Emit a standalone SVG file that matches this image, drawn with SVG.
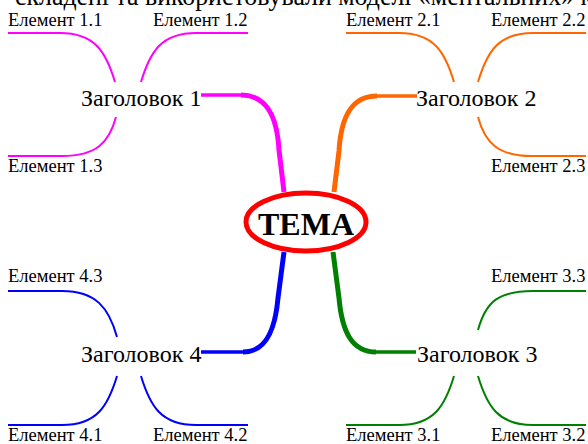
<svg xmlns="http://www.w3.org/2000/svg" width="588" height="444" viewBox="0 0 588 444">
<style>
.el{font-family:"Liberation Serif","Times New Roman",serif;font-size:18.5px;fill:#000}
.hd{font-family:"Liberation Serif","Times New Roman",serif;font-size:24px;fill:#000}
.tm{font-family:"Liberation Serif","Times New Roman",serif;font-size:32px;font-weight:bold;fill:#000}
.top{font-family:"Liberation Serif","Times New Roman",serif;font-size:28px;fill:#000}
.c{fill:none;stroke-linecap:butt;stroke-linejoin:round}
.thin{stroke-width:2}
.m{stroke:#FF00FF}.o{stroke:#FF6600}.g{stroke:#008000}.b{stroke:#0000FF}
</style>
<rect width="588" height="444" fill="#fff"/>
<text class="top" x="15" y="5" textLength="578" lengthAdjust="spacingAndGlyphs">складені та використовували моделі «ментальних» к</text>
<g id="connectors">
<path class="c m" stroke-width="3.5" d="M201,95 H243"/>
<path class="c m" stroke-width="5" d="M241,95 C266,95 277,115 279,150 L284,192"/>
<path class="c o" stroke-width="3.5" d="M417,96 H375"/>
<path class="c o" stroke-width="5" d="M377,96 C352,96 341,116 339,151 L334,192"/>
<path class="c b" stroke-width="5" d="M284,252 L278,298 C275,332 265,352 243,352"/>
<path class="c b" stroke-width="3.5" d="M245,352 H201"/>
<path class="c g" stroke-width="5" d="M333,252 L339,298 C342,332 352,352 376,352"/>
<path class="c g" stroke-width="3.5" d="M374,352 H416"/>
<path class="c thin m" d="M8,33 H60 C95,33 106,52 115,82"/>
<path class="c thin m" d="M248,33 H196 C161,33 150,52 141,82"/>
<path class="c thin m" d="M116,117 C109,143 96,156 62,156 H8"/>
<path class="c thin o" d="M346,33 H399 C434,33 445,52 454,82"/>
<path class="c thin o" d="M586,33 H533 C498,33 487,52 478,82"/>
<path class="c thin o" d="M478,117 C485,143 498,156 532,156 H586"/>
<path class="c thin g" d="M478,330 C486,301 499,291 533,291 H586"/>
<path class="c thin g" d="M454,376 C445,406 434,425 399,425 H346"/>
<path class="c thin g" d="M478,376 C487,406 498,425 533,425 H586"/>
<path class="c thin b" d="M117,337 C109,308 96,291 62,291 H8"/>
<path class="c thin b" d="M117,376 C108,406 97,425 62,425 H8"/>
<path class="c thin b" d="M141,376 C150,406 161,425 196,425 H248"/>
</g>
<g id="center">
<ellipse cx="306" cy="222" rx="60" ry="29" fill="#fff" stroke="#FF0000" stroke-width="5"/>
<text class="tm" x="306" y="235" text-anchor="middle">ТЕМА</text>
</g>
<g id="h1"><text class="hd" x="81" y="106">Заголовок 1</text></g>
<g id="h2"><text class="hd" x="416" y="106">Заголовок 2</text></g>
<g id="h3"><text class="hd" x="417" y="362">Заголовок 3</text></g>
<g id="h4"><text class="hd" x="81" y="362">Заголовок 4</text></g>
<g id="e11"><text class="el" x="8" y="26">Елемент 1.1</text></g>
<g id="e12"><text class="el" x="153" y="26">Елемент 1.2</text></g>
<g id="e13"><text class="el" x="8" y="172">Елемент 1.3</text></g>
<g id="e21"><text class="el" x="346" y="26">Елемент 2.1</text></g>
<g id="e22"><text class="el" x="491" y="26">Елемент 2.2</text></g>
<g id="e23"><text class="el" x="491" y="172">Елемент 2.3</text></g>
<g id="e31"><text class="el" x="346" y="441">Елемент 3.1</text></g>
<g id="e32"><text class="el" x="491" y="441">Елемент 3.2</text></g>
<g id="e33"><text class="el" x="491" y="282">Елемент 3.3</text></g>
<g id="e41"><text class="el" x="8" y="441">Елемент 4.1</text></g>
<g id="e42"><text class="el" x="153" y="441">Елемент 4.2</text></g>
<g id="e43"><text class="el" x="8" y="282">Елемент 4.3</text></g>
</svg>
